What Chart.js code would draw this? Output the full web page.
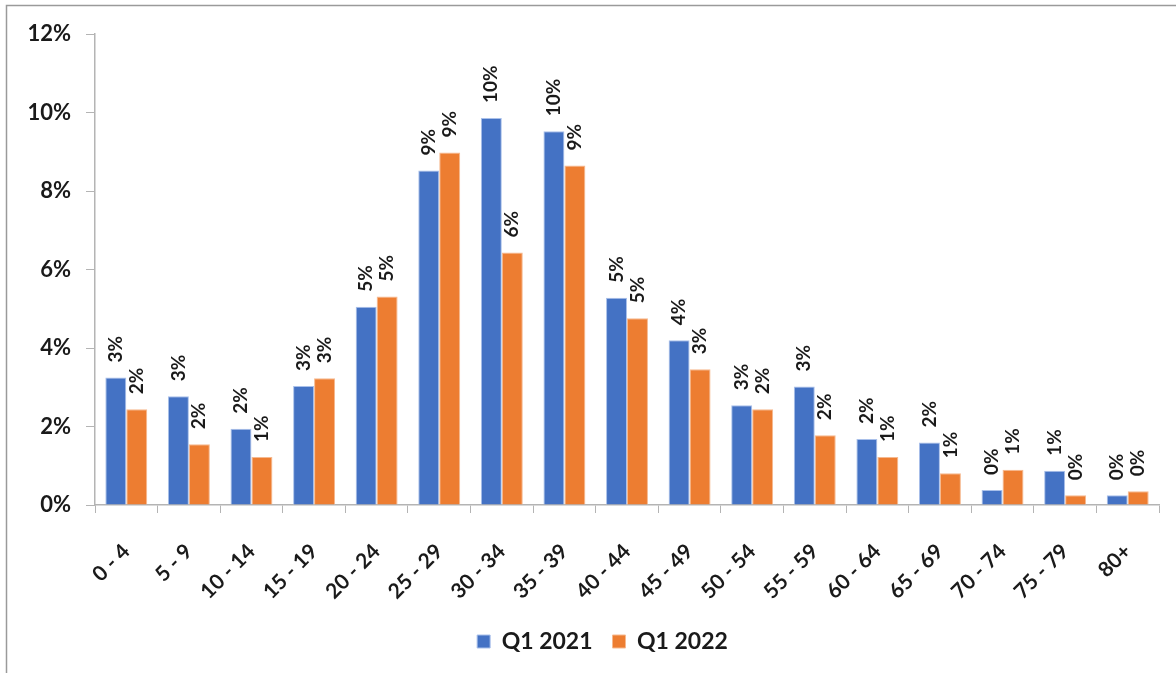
<!DOCTYPE html>
<html>
<head>
<meta charset="utf-8">
<script src="https://cdn.jsdelivr.net/npm/chart.js@4"></script>
<style>
  html, body { margin: 0; padding: 0; background: #fff; }
  #wrap { position: relative; width: 1176px; height: 673px; }
</style>
</head>
<body>
<div id="wrap"><canvas id="ageChart" width="1176" height="673"></canvas></div>
<script>
// Age bands and share of total (%)
const ageBands = ['0 - 4', '5 - 9', '10 - 14', '15 - 19', '20 - 24', '25 - 29', '30 - 34', '35 - 39',
    '40 - 44', '45 - 49', '50 - 54', '55 - 59', '60 - 64', '65 - 69', '70 - 74', '75 - 79', '80+'];
const q1_2021 = [3.25, 2.77, 1.94, 3.03, 5.05, 8.52, 9.86, 9.52, 5.28, 4.20, 2.54, 3.02, 1.68, 1.59, 0.38, 0.87, 0.25];
const q1_2022 = [2.44, 1.55, 1.22, 3.23, 5.31, 8.98, 6.43, 8.65, 4.76, 3.46, 2.44, 1.78, 1.22, 0.81, 0.90, 0.25, 0.35];
const seriesNames = ['Q1 2021', 'Q1 2022'];
const yTicks = [0, 2, 4, 6, 8, 10, 12];

const FONT = 'Lato, "Open Sans", sans-serif';
const axisGrey = '#b4b4b4';

// Rotated value labels above each bar
const barLabels = {
    id: 'barLabels',
    afterDatasetsDraw(chart) {
        const ctx = chart.ctx;
        ctx.save();
        ctx.font = 'bold 19px ' + FONT;
        ctx.fillStyle = '#1a1a1a';
        ctx.textAlign = 'left';
        ctx.textBaseline = 'middle';
        chart.data.datasets.forEach((ds, i) => {
            const meta = chart.getDatasetMeta(i);
            meta.data.forEach((bar, j) => {
                ctx.save();
                ctx.translate(bar.x, bar.y - 15);
                ctx.rotate(-Math.PI / 2);
                ctx.fillText(Math.round(ds.data[j]) + '%', 0, 0);
                ctx.restore();
            });
        });
        ctx.restore();
    }
};

// Frame lines (top and left) of the original picture
const frame = {
    id: 'frame',
    beforeDraw(chart) {
        const ctx = chart.ctx;
        ctx.save();
        ctx.fillStyle = '#fff';
        ctx.fillRect(0, 0, chart.width, chart.height);
        ctx.strokeStyle = '#9a9a9a';
        ctx.lineWidth = 1.5;
        ctx.beginPath();
        ctx.moveTo(6.5, chart.height);
        ctx.lineTo(6.5, 5.5);
        ctx.lineTo(chart.width, 5.5);
        ctx.stroke();
        ctx.restore();
    }
};

// nudge the legend a little to the right, like the original
const legendShift = {
    id: 'legendShift',
    afterUpdate(chart) {
        const lg = chart.legend;
        if (lg) {
            lg.left += 23;
            lg.right += 23;
            lg.adjustHitBoxes();
        }
    }
};

new Chart(document.getElementById('ageChart'), {
    type: 'bar',
    data: {
        labels: ageBands,
        datasets: [
            {
                label: seriesNames[0],
                data: q1_2021,
                backgroundColor: '#4472C4',
                borderColor: '#a9c0ea',
                borderWidth: 1
            },
            {
                label: seriesNames[1],
                data: q1_2022,
                backgroundColor: '#ED7D31',
                borderColor: '#f6b98f',
                borderWidth: 1
            }
        ]
    },
    options: {
        responsive: false,
        animation: false,
        layout: {
            padding: { top: 34, right: 17, left: 0, bottom: 10 }
        },
        datasets: {
            bar: { categoryPercentage: 0.67, barPercentage: 1.0 }
        },
        plugins: {
            legend: {
                position: 'bottom',
                labels: {
                    boxWidth: 13,
                    boxHeight: 13,
                    padding: 20,
                    color: '#1a1a1a',
                    font: { family: FONT, size: 23, weight: 'bold' }
                }
            },
            tooltip: { enabled: false }
        },
        scales: {
            x: {
                grid: {
                    offset: true,
                    drawOnChartArea: false,
                    tickLength: 8,
                    color: axisGrey
                },
                border: { color: axisGrey, width: 1.5 },
                ticks: {
                    minRotation: 45,
                    maxRotation: 45,
                    autoSkip: false,
                    padding: 26,
                    color: '#1a1a1a',
                    font: { family: FONT, size: 21, weight: 'bold' }
                },
                afterFit(scale) { scale.height = 105; }
            },
            y: {
                min: 0,
                max: 12,
                afterBuildTicks(scale) {
                    scale.ticks = yTicks.map(v => ({ value: v }));
                },
                grid: {
                    drawOnChartArea: false,
                    tickLength: 9,
                    color: axisGrey
                },
                border: { color: axisGrey, width: 1.5 },
                ticks: {
                    padding: 15,
                    color: '#1a1a1a',
                    font: { family: FONT, size: 22, weight: 'bold' },
                    callback: v => v + '%'
                },
                afterFit(scale) { scale.width = 95; }
            }
        }
    },
    plugins: [frame, barLabels, legendShift]
});
</script>
</body>
</html>
